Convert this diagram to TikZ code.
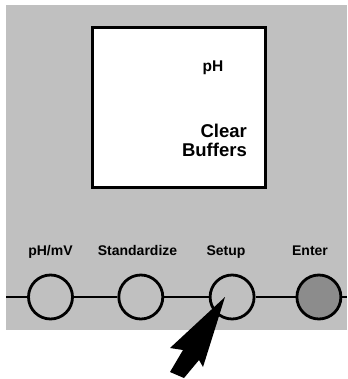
\documentclass[tikz,border=0pt]{standalone}
\usepackage{fontspec}
\setmainfont{Liberation Sans}
\usetikzlibrary{positioning}
\definecolor{panelgray}{HTML}{C0C0C0}
\definecolor{entergray}{HTML}{8C8C8C}
\tikzset{
  button/.style={circle, draw=black, line width=2.8pt, fill=panelgray, minimum size=44pt, inner sep=0pt},
  keylabel/.style={font=\bfseries\fontsize{14}{16}\selectfont, anchor=base, inner sep=0pt},
  display/.style={draw=black, line width=2.8pt, fill=white, minimum width=173pt, minimum height=160pt, inner sep=0pt}
}
\begin{document}
\begin{tikzpicture}[x=1pt, y=-1pt]
      \useasboundingbox (0,0) rectangle (347,379);
      \fill[panelgray] (6,5) rectangle (347,330);
      % Nodes
      \node[display] (disp) at (179,107.5) {};
      \node[font=\bfseries\fontsize{15.5}{18}\selectfont, anchor=base] (mode) at (213,71.5) {pH};
      \node[font=\bfseries\fontsize{18.5}{19}\selectfont, align=right, anchor=north east, inner sep=0pt] (msg) at (247,124) {Clear\\Buffers};
      \coordinate (lend) at (6,297);
      \coordinate (rend) at (347,297);
      \node[button] (phmv) at (50.5,297) {};
      \node[button] (stand) [right=43.5pt of phmv] {};
      \node[button] (setup) [right=44.5pt of stand] {};
      \node[button, fill=entergray] (enter) [right=40pt of setup] {};
      \node[keylabel] (lphmv) at (50.5,255) {pH/mV};
      \node[keylabel] (lstand) at (137.5,255) {Standardize};
      \node[keylabel] (lsetup) at (226,255) {Setup};
      \node[keylabel] (lenter) at (310,255) {Enter};
      
      % Lines
      \draw[line width=2.5pt] (lend) -- (phmv);
      \draw[line width=2.5pt] (phmv) -- (stand);
      \draw[line width=2.5pt] (stand) -- (setup);
      \draw[line width=2.5pt] (setup) -- (enter);
      \draw[line width=2.5pt] (enter) -- (rend);
      
      % Pointer
      \fill[black] (225,297) -- (203,367) -- (199,360) -- (184,378) -- (170,372) -- (183,350) -- (170,348) -- cycle;
  \end{tikzpicture}
\end{document}
